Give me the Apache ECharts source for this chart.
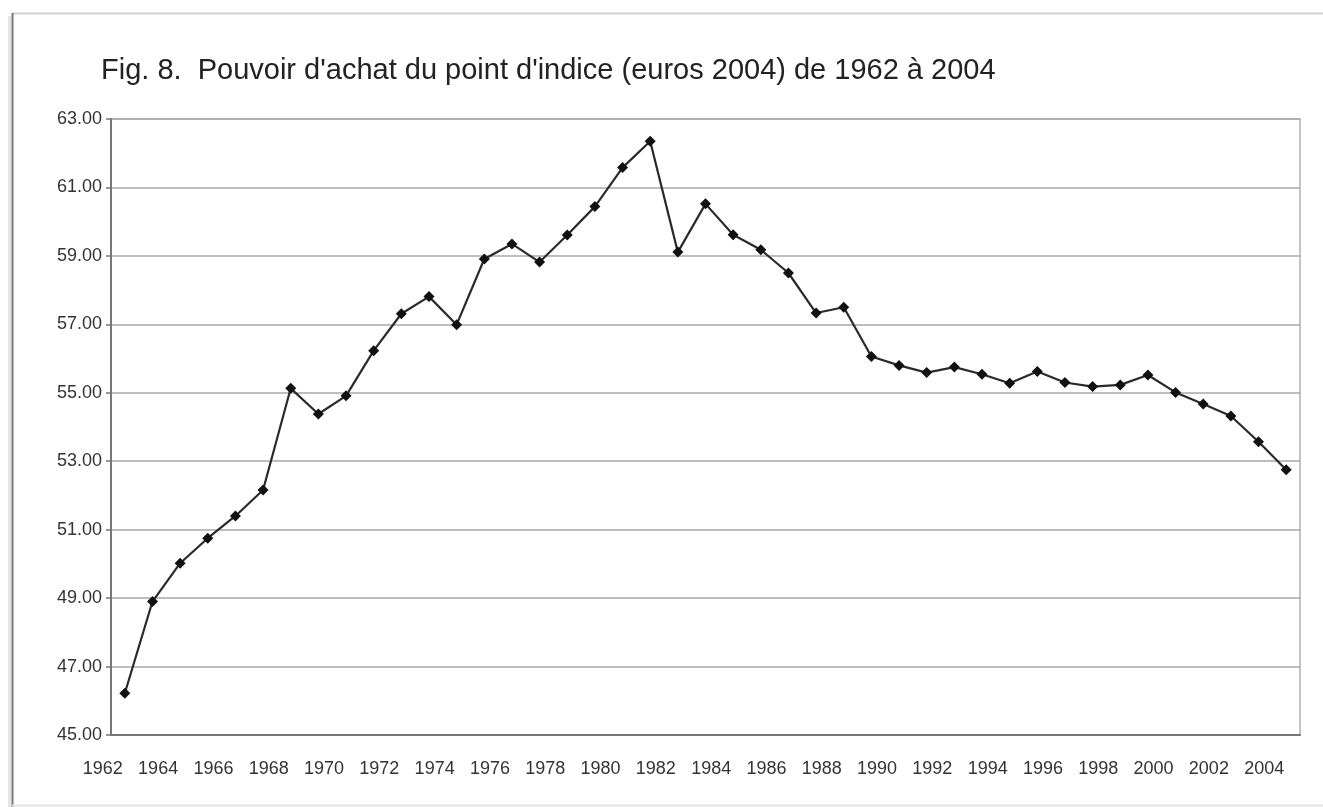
<!DOCTYPE html>
<html>
<head>
<meta charset="utf-8">
<script src="https://cdn.jsdelivr.net/npm/echarts@6/dist/echarts.min.js"></script>
<style>
	html, body { margin: 0; padding: 0; background: #fff; }
	#chart { width: 1323px; height: 807px; }
</style>
</head>
<body>
<div id="chart"></div>
<script>
	// années 1962 - 2004
	var annees = [];
	for (var a = 1962; a <= 2004; a++) {
		annees.push(String(a));
	}

	// pouvoir d'achat du point d'indice (euros 2004)
	var pouvoirAchat = [
		46.22, 48.90, 50.02, 50.75, 51.40, 52.16, 55.13, 54.38, 54.91, 56.23,
		57.31, 57.81, 56.99, 58.91, 59.35, 58.82, 59.61, 60.44, 61.58, 62.35,
		59.11, 60.52, 59.62, 59.18, 58.50, 57.33, 57.50, 56.06, 55.80, 55.59,
		55.75, 55.54, 55.28, 55.62, 55.30, 55.18, 55.23, 55.52, 55.01, 54.67,
		54.32, 53.57, 52.75
	];

	var titre = "Fig. 8.  Pouvoir d'achat du point d'indice (euros 2004) de 1962 à 2004";

	var chart = echarts.init(document.getElementById('chart'));
	chart.setOption({
		animation: false,
		backgroundColor: '#fff',
		textStyle: { fontFamily: 'Liberation Sans, Arial, sans-serif' },
		title: {
			text: titre,
			left: 96,
			top: 51,
			textStyle: { fontSize: 29, fontWeight: 'normal', color: '#222' }
		},
		// cadre autour de la figure
		graphic: [
			{ type: 'line', shape: { x1: 12, y1: 13.5, x2: 1323, y2: 13.5 }, style: { stroke: '#cfcfcf', lineWidth: 2 } },
			{ type: 'line', shape: { x1: 9.5, y1: 16, x2: 9.5, y2: 807 }, style: { stroke: '#e6e6e6', lineWidth: 3 } },
			{ type: 'line', shape: { x1: 12.5, y1: 13, x2: 12.5, y2: 807 }, style: { stroke: '#777', lineWidth: 2 } },
			{ type: 'line', shape: { x1: 12, y1: 805.5, x2: 1323, y2: 805.5 }, style: { stroke: '#e4e4e4', lineWidth: 2 } }
		],
		grid: {
			left: 111,
			right: 23,
			top: 119,
			bottom: 72,
			show: true,
			borderColor: '#b0b0b0',
			borderWidth: 1.5
		},
		xAxis: {
			type: 'category',
			data: annees,
			boundaryGap: true,
			axisLine: { lineStyle: { color: '#777', width: 2 } },
			axisTick: { interval: 1, length: 5, lineStyle: { color: '#777', width: 1.5 } },
			axisLabel: {
				interval: 1,
				fontSize: 18,
				color: '#333',
				margin: 25,
				padding: [0, 44, 0, 0]
			},
			splitLine: { show: false }
		},
		yAxis: {
			type: 'value',
			min: 45,
			max: 63,
			interval: 2,
			axisLine: { show: true, lineStyle: { color: '#777', width: 2 } },
			axisTick: { show: true, length: 5, lineStyle: { color: '#777', width: 1.5 } },
			axisLabel: {
				fontSize: 18,
				color: '#333',
				margin: 9,
				formatter: function (v) { return v.toFixed(2); }
			},
			splitLine: { lineStyle: { color: '#a8a8a8', width: 1.5 } }
		},
		series: [{
			name: 'Pouvoir d\'achat',
			type: 'line',
			data: pouvoirAchat,
			symbol: 'diamond',
			symbolSize: 11,
			lineStyle: { color: '#2a2a2a', width: 2.2 },
			itemStyle: { color: '#111' }
		}]
	});
</script>
</body>
</html>
